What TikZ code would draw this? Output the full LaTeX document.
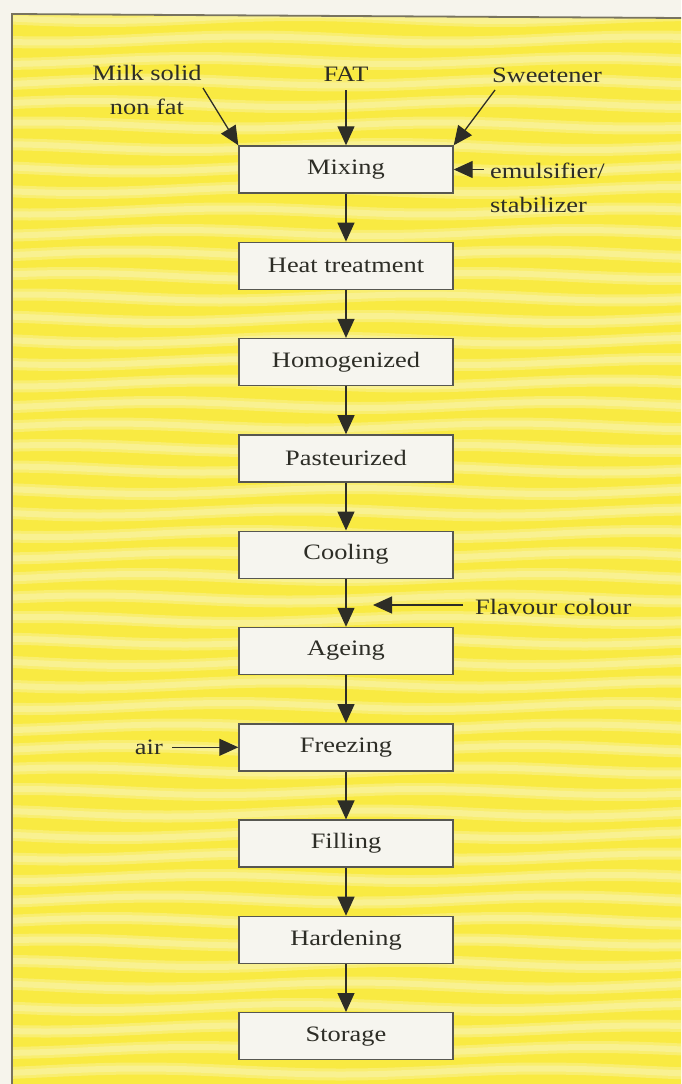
\documentclass[tikz,border=0pt]{standalone}
\usepackage{fontspec}
\setmainfont{Liberation Serif}[FakeStretch=1.2]
\usetikzlibrary{arrows.meta}
\definecolor{bgwhite}{RGB}{246,244,236}
\definecolor{panelyellow}{RGB}{249,234,66}
\definecolor{stripeyellow}{RGB}{249,243,168}
\definecolor{boxfill}{RGB}{246,245,239}
\definecolor{ink}{RGB}{45,45,38}
\definecolor{rule}{RGB}{120,115,95}
\tikzset{
  stepbox/.style={draw=ink!80, line width=1.4pt, fill=boxfill, minimum width=214pt,
    minimum height=47pt, inner sep=0pt, font=\fontsize{22}{26}\selectfont, text=ink},
  lbl/.style={font=\fontsize{22}{34}\selectfont, text=ink, inner sep=0pt},
  flow/.style={draw=ink, line width=1.3pt, -{Triangle[length=19pt,width=17pt]}},
}
\begin{document}
\begin{tikzpicture}[x=1pt,y=-1pt]
  \useasboundingbox (0,0) rectangle (681,1084);
  % background
  \fill[bgwhite] (0,0) rectangle (681,1084);
  \fill[panelyellow] (12,14) -- (681,18) -- (681,1084) -- (12,1084) -- cycle;
  \begin{scope}
    \clip (12,14) -- (681,18) -- (681,1084) -- (12,1084) -- cycle;
    \foreach \k in {0,...,50} {
      \draw[stripeyellow, line width=12pt, opacity=0.45]
        plot[domain=12:681, samples=40, smooth] (\x, {18+\k*21.5 + 3*sin(\x*0.9 + \k*47)});
      \draw[stripeyellow, line width=6pt, opacity=0.6]
        plot[domain=12:681, samples=40, smooth] (\x, {18+\k*21.5 + 3*sin(\x*0.9 + \k*47)});
    }
  \end{scope}
  \draw[rule, line width=1.8pt] (12,1084) -- (12,14) -- (681,18);

  % process boxes
  \node[stepbox] (mix)   at (346,169.5)  {Mixing};
  \node[stepbox] (heat)  at (346,265.8)  {Heat treatment};
  \node[stepbox] (homo)  at (346,362.1)  {Homogenized};
  \node[stepbox] (past)  at (346,458.4)  {Pasteurized};
  \node[stepbox] (cool)  at (346,554.7)  {Cooling};
  \node[stepbox] (age)   at (346,651.0)  {Ageing};
  \node[stepbox] (frz)   at (346,747.3)  {Freezing};
  \node[stepbox] (fill)  at (346,843.6)  {Filling};
  \node[stepbox] (hard)  at (346,939.9)  {Hardening};
  \node[stepbox] (store) at (346,1036.2) {Storage};

  % input labels
  \node[lbl, align=center] (milk) at (147,90) {Milk solid\\non fat};
  \node[lbl] (fat) at (346,74) {FAT};
  \node[lbl] (sweet) at (547,75) {Sweetener};
  \node[lbl, align=left, anchor=west] (emul) at (490,188) {emulsifier/\\stabilizer};
  \node[lbl, anchor=west] (flav) at (475,607) {Flavour colour};
  \node[lbl, anchor=east] (air) at (163,747) {air};

  % free ends of input arrows
  \coordinate (milkA) at (203,88);
  \coordinate (fatA) at (346,90);
  \coordinate (sweetA) at (495,90);
  \coordinate (emulA) at ([xshift=30pt]mix.east);
  \coordinate (flavA) at (463,605);
  \coordinate (flavB) at (373,605);
  \coordinate (airA) at ([xshift=-66pt]frz.west);

  % input arrows
  \draw[flow] (milkA) -- (mix.north west);
  \draw[flow] (fatA) -- (mix.north);
  \draw[flow] (sweetA) -- (mix.north east);
  \draw[flow] (emulA) -- (mix.east);
  \draw[flow] (flavA) -- (flavB);
  \draw[flow] (airA) -- (frz.west);

  % main flow
  \draw[flow] (mix) -- (heat);
  \draw[flow] (heat) -- (homo);
  \draw[flow] (homo) -- (past);
  \draw[flow] (past) -- (cool);
  \draw[flow] (cool) -- (age);
  \draw[flow] (age) -- (frz);
  \draw[flow] (frz) -- (fill);
  \draw[flow] (fill) -- (hard);
  \draw[flow] (hard) -- (store);
\end{tikzpicture}
\end{document}
